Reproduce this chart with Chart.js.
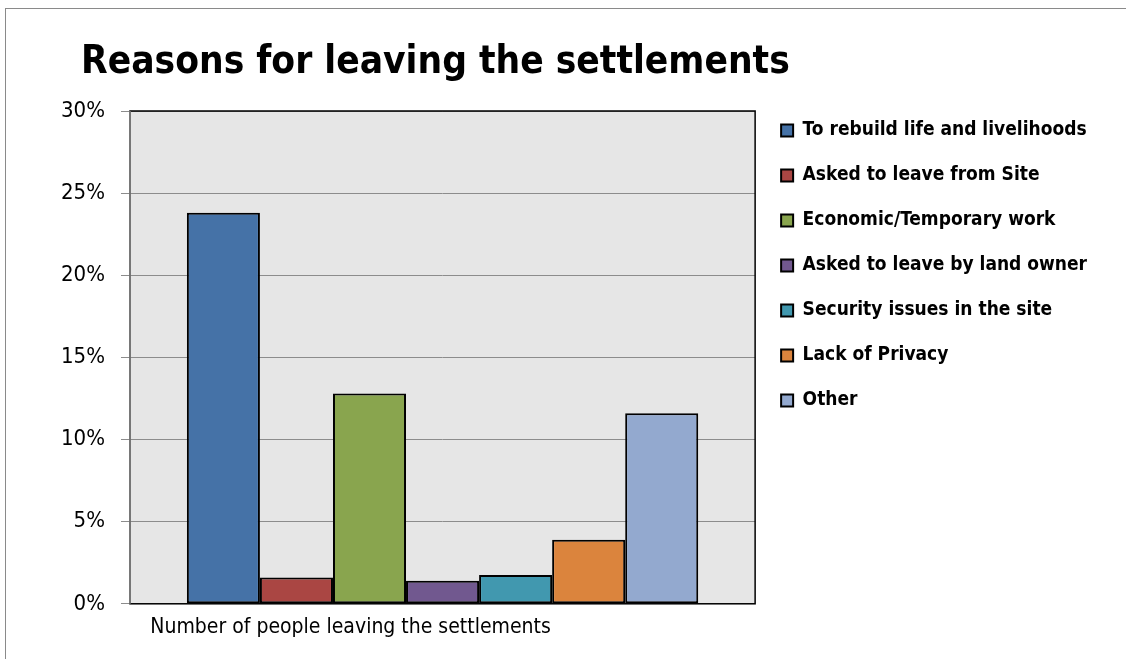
<!DOCTYPE html>
<html>
<head>
<meta charset="utf-8">
<script src="https://cdn.jsdelivr.net/npm/chart.js@4"></script>
<style>
  html, body { margin: 0; padding: 0; background: #fff; }
  #wrap { position: relative; width: 1126px; height: 659px; }
  #frame { position: absolute; left: 5px; top: 8px; right: -2px; bottom: -2px; border-left: 1px solid #8a8a8a; border-top: 1px solid #8a8a8a; }
  #title { position: absolute; left: 81px; top: 37px; font: bold 38.5px "DejaVu Sans Condensed", sans-serif; color: #000; white-space: nowrap; }
</style>
</head>
<body>
<div id="wrap">
  <div id="frame"></div>
  <div id="title">Reasons for leaving the settlements</div>
  <canvas id="chart"></canvas>
</div>
<script>
const categories = ['Number of people leaving the settlements'];
const reasons = [
  'To rebuild life and livelihoods',
  'Asked to leave from Site',
  'Economic/Temporary work',
  'Asked to leave by land owner',
  'Security issues in the site',
  'Lack of Privacy',
  'Other'
];
const shares = [23.8, 1.6, 12.8, 1.4, 1.75, 3.9, 11.6];
const colors = ['#4572A7', '#AA4643', '#89A54E', '#71588F', '#4198AF', '#DB843D', '#93A9CF'];
const yTicks = [0, 5, 10, 15, 20, 25, 30];

const fontFam = '"DejaVu Sans Condensed", sans-serif';

// grey plot background + black frame, like the Excel plot area
const plotBg = {
  id: 'plotBg',
  beforeDraw(chart) {
    const { ctx, chartArea: a } = chart;
    ctx.save();
    ctx.fillStyle = '#e6e6e6';
    ctx.fillRect(a.left, a.top, a.right - a.left, a.bottom - a.top);
    ctx.restore();
  },
  afterDatasetsDraw(chart) {
    const { ctx, chartArea: a } = chart;
    ctx.save();
    ctx.strokeStyle = '#000';
    ctx.lineWidth = 1.5;
    ctx.strokeRect(a.left, a.top, a.right - a.left, a.bottom - a.top);
    ctx.strokeStyle = '#8c8c8c';
    ctx.beginPath();
    ctx.moveTo(a.left, a.top);
    ctx.lineTo(a.left, a.bottom);
    ctx.stroke();
    ctx.restore();
  }
};

// lift the legend a little above the plot top
const legendShift = {
  id: 'legendShift',
  afterLayout(chart) {
    if (chart.legend) {
      chart.legend.top -= 16;
      chart.legend.bottom -= 16;
    }
  }
};

new Chart(document.getElementById('chart'), {
  type: 'bar',
  data: {
    labels: categories,
    datasets: reasons.map((r, i) => ({
      label: r,
      data: [shares[i]],
      backgroundColor: colors[i],
      borderColor: '#000',
      borderWidth: 2,
      borderSkipped: false,
      barPercentage: 1,
      categoryPercentage: 0.818
    }))
  },
  options: {
    responsive: true,
    maintainAspectRatio: false,
    animation: false,
    layout: { padding: { top: 111, left: 45, right: 29, bottom: 8 } },
    plugins: {
      title: { display: false },
      tooltip: { enabled: false },
      legend: {
        position: 'right',
        align: 'start',
        maxWidth: 420,
        labels: {
          color: '#000',
          font: { family: fontFam, size: 19, weight: 'bold' },
          boxWidth: 12,
          boxHeight: 12,
          padding: 26
        }
      }
    },
    scales: {
      x: {
        grid: { display: false, drawTicks: false },
        border: { display: false },
        ticks: {
          color: '#000',
          labelOffset: -92,
          padding: 11,
          font: { family: fontFam, size: 21 }
        }
      },
      y: {
        min: 0,
        max: 30,
        afterBuildTicks(axis) { axis.ticks = yTicks.map(v => ({ value: v })); },
        grid: { color: '#8c8c8c', lineWidth: 1, tickLength: 9 },
        border: { display: false },
        ticks: {
          color: '#000',
          padding: 16,
          callback: v => v + '%',
          font: { family: fontFam, size: 22 }
        }
      }
    }
  },
  plugins: [plotBg, legendShift]
});
</script>
</body>
</html>
